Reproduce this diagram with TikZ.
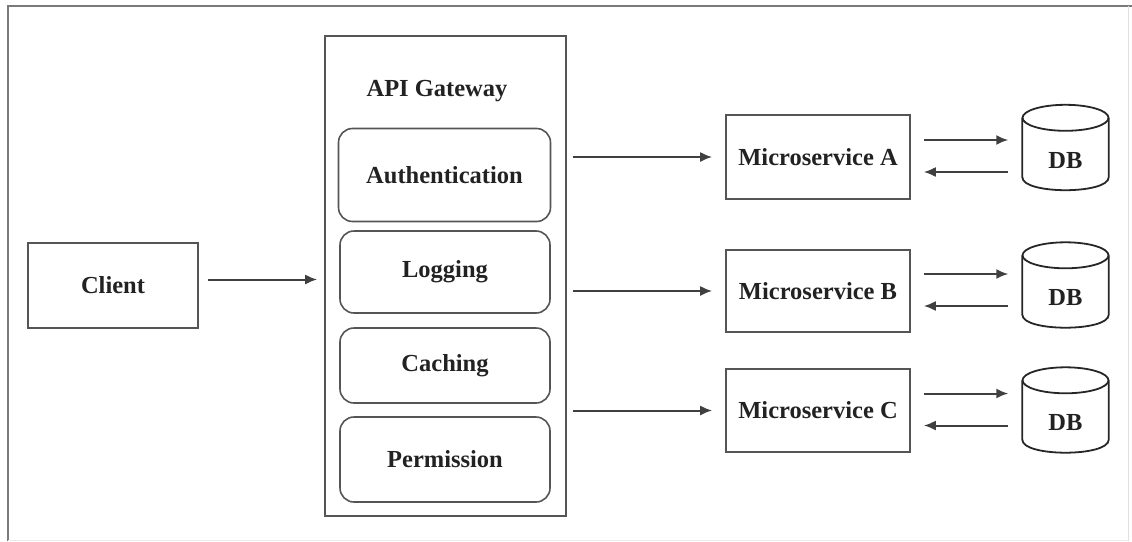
\documentclass[tikz,border=0pt]{standalone}
\usepackage{fontspec}
\setmainfont{Liberation Serif}
\usetikzlibrary{arrows.meta}
\definecolor{boxline}{HTML}{555555}
\definecolor{txt}{HTML}{222222}
\definecolor{frameline}{HTML}{7A7A7A}
\begin{document}
\begin{tikzpicture}[x=1pt,y=-1pt,
  every node/.style={font=\fontsize{24.5}{28}\selectfont\bfseries, text=txt, inner sep=0pt},
  plainbox/.style={draw=boxline, line width=1.6pt, rectangle},
  roundbox/.style={draw=boxline, line width=1.6pt, rectangle, rounded corners=14pt},
  dbnode/.style={rectangle, minimum width=86pt, minimum height=59pt},
  dbline/.style={draw=black!85, line width=1.8pt},
  arr/.style={draw=black!75, line width=2pt, -{Latex[length=12pt,width=10pt]}}]
\useasboundingbox (0,0) rectangle (1132,541);
% outer frame
\draw[frameline, line width=1.8pt] (8,541) -- (8,6) -- (1132,6);
\draw[black!12, line width=1pt] (1128,6) -- (1128,541);
\draw[black!8, line width=1pt] (8,540) -- (1128,540);
% client
\node[plainbox, minimum width=170pt, minimum height=85pt] (client) at (113,285.5) {Client};
% gateway
\node[plainbox, minimum width=241pt, minimum height=480pt] (gw) at (445.5,276) {};
\node (gwtitle) at (437,91) {API Gateway};
\node[roundbox, minimum width=212pt, minimum height=93pt] (auth) at (444.5,175) {Authentication};
\node[roundbox, minimum width=210pt, minimum height=82pt] (log) at (445,272) {Logging};
\node[roundbox, minimum width=210pt, minimum height=75pt] (cache) at (445,365.5) {Caching};
\node[roundbox, minimum width=210pt, minimum height=85pt] (perm) at (445,459.5) {Permission};
% microservices
\node[plainbox, minimum width=184pt, minimum height=84pt] (msA) at (818,157) {Microservice A};
\node[plainbox, minimum width=184pt, minimum height=82pt] (msB) at (818,291) {Microservice B};
\node[plainbox, minimum width=184pt, minimum height=83pt] (msC) at (818,410.5) {Microservice C};
% databases (node = front face of the cylinder)
\node[dbnode] (dbA) at (1065.5,160.5) {DB};
\node[dbnode] (dbB) at (1065.5,298) {DB};
\node[dbnode] (dbC) at (1065.5,423) {DB};
\foreach \d in {dbA,dbB,dbC}{
  \draw[dbline] ([yshift=13pt]\d.north) ellipse [x radius=43pt, y radius=13pt];
  \draw[dbline] ([yshift=13pt]\d.north west) -- ([yshift=13pt]\d.south west)
    .. controls ([yshift=-4.33pt]\d.south west) and ([yshift=-4.33pt]\d.south east) ..
    ([yshift=13pt]\d.south east) -- ([yshift=13pt]\d.north east);
}
% client -> gateway
\coordinate (c1) at ([yshift=6pt]client.east);
\draw[arr, shorten <=9pt, shorten >=7pt] (c1) -- (c1 -| gw.west);
% gateway -> microservices
\foreach \m in {msA,msB,msC}{
  \draw[arr, shorten <=6pt, shorten >=13pt] (gw.east |- \m.west) -- (\m.west);
}
% microservice <-> db
\foreach \m/\d in {msA/dbA,msB/dbB,msC/dbC}{
  \coordinate (\m f) at ([yshift=17pt]\m.east);
  \coordinate (\m b) at ([yshift=-15pt]\m.east);
  \draw[arr, shorten <=13pt, shorten >=14pt] (\m f) -- (\m f -| \d.west);
  \draw[arr, shorten <=14pt, shorten >=13pt] (\m b -| \d.west) -- (\m b);
}
\end{tikzpicture}
\end{document}
